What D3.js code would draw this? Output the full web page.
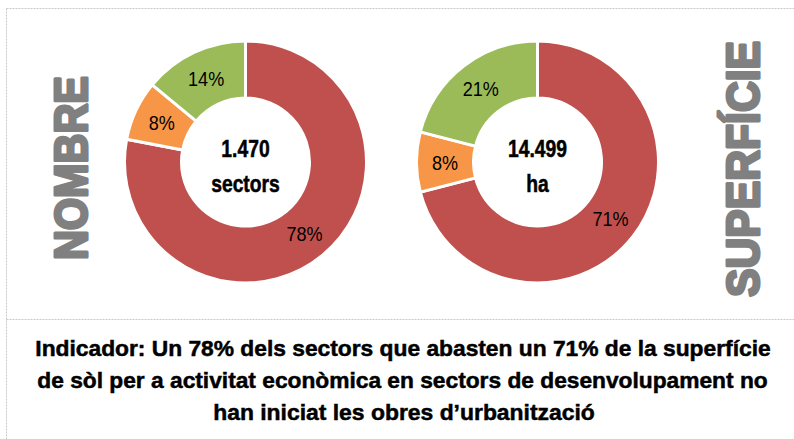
<!DOCTYPE html>
<html><head><meta charset="utf-8">
<script src="https://cdn.jsdelivr.net/npm/d3@7"></script>
<style>body{margin:0;background:#fff}svg{display:block}</style>
</head><body>
<svg id="c" width="794" height="439"></svg>
<script>
const categories = ["No iniciat", "Iniciat", "Acabat"];
const nombreValues = [78, 8, 14];
const superficieValues = [71, 8, 21];
const colors = ["#C0504D", "#F79646", "#9BBB59"];
const centerNombre = ["1.470", "sectors"];
const centerSuperficie = ["14.499", "ha"];
const sideLabels = ["NOMBRE", "SUPERFÍCIE"];
const titleLines = [
  "Indicador: Un 78% dels sectors que abasten un 71% de la superfície",
  "de sòl per a activitat econòmica en sectors de desenvolupament no",
  "han iniciat les obres d’urbanització"
];

const svg = d3.select("#c");
const font = "'Liberation Sans',Arial,sans-serif";

// borders
const bc = "#c9c9c9";
svg.append("line").attr("x1",6.5).attr("y1",8.5).attr("x2",794).attr("y2",8.5)
  .attr("stroke",bc).attr("stroke-dasharray","2,1");
svg.append("line").attr("x1",6.5).attr("y1",8.5).attr("x2",6.5).attr("y2",439)
  .attr("stroke",bc).attr("stroke-dasharray","2,1");
svg.append("line").attr("x1",6.5).attr("y1",319.5).attr("x2",794).attr("y2",319.5)
  .attr("stroke",bc).attr("stroke-dasharray","2,1");

const pie = d3.pie().sort(null).value(d => d);
const outerR = 121, innerR = 64;
const arc = d3.arc().innerRadius(innerR).outerRadius(outerR);
const labelArc = d3.arc().innerRadius((innerR+outerR)/2).outerRadius((innerR+outerR)/2);
const SX = 0.86;

function donut(cx, cy, values, center) {
  const g = svg.append("g").attr("transform", `translate(${cx},${cy})`);
  const arcs = pie(values);
  g.selectAll("path").data(arcs).join("path")
    .attr("d", arc).attr("fill", (d,i) => colors[i])
    .attr("stroke", "#fff").attr("stroke-width", 3).attr("stroke-linejoin","miter");
  g.selectAll("text.lbl").data(arcs).join("text").attr("class","lbl")
    .attr("transform", d => `translate(${labelArc.centroid(d)}) scale(${SX},1)`)
    .attr("text-anchor","middle").attr("dy","0.36em")
    .attr("font-family", font).attr("font-size", 21).attr("fill","#000")
    .text(d => d.data + "%");
  g.selectAll("text.ctr").data(center).join("text").attr("class","ctr")
    .attr("transform", (d,i) => `translate(0,${i === 0 ? -5 : 30}) scale(0.84,1)`)
    .attr("text-anchor","middle")
    .attr("font-family", font).attr("font-weight","bold").attr("font-size", 23)
    .attr("fill","#000").attr("stroke","#000").attr("stroke-width",0.5).text(d => d);
}
donut(245.5, 162, nombreValues, centerNombre);
donut(537.5, 162, superficieValues, centerSuperficie);

// side labels (rotated, condensed to reference length)
const sides = [{t: sideLabels[0], x: 87, y: 168, len: 184}, {t: sideLabels[1], x: 759, y: 169, len: 256}];
svg.selectAll("text.side").data(sides).join("text").attr("class","side")
  .attr("text-anchor","middle")
  .attr("font-family", font).attr("font-weight","bold").attr("font-size", 47)
  .attr("fill","#808080").attr("stroke","#808080").attr("stroke-width",3)
  .attr("stroke-linejoin","round")
  .text(d => d.t)
  .each(function(d) {
    const w = this.getComputedTextLength();
    d3.select(this).attr("transform", `translate(${d.x},${d.y}) rotate(-90) scale(${d.len / w},1)`);
  });

// title
const titleSpec = [{x0: 35, x1: 771, y: 356}, {x0: 37, x1: 768, y: 388}, {x0: 213, x1: 595, y: 420}];
svg.selectAll("text.title").data(titleLines).join("text").attr("class","title")
  .attr("text-anchor","middle")
  .attr("font-family", font).attr("font-weight","bold").attr("font-size", 22.5)
  .attr("fill","#000").attr("stroke","#000").attr("stroke-width",0.5).text(d => d)
  .each(function(d, i) {
    const s = titleSpec[i];
    const w = this.getComputedTextLength();
    d3.select(this).attr("transform", `translate(${(s.x0 + s.x1) / 2},${s.y}) scale(${(s.x1 - s.x0) / w},1)`);
  });
</script>
</body></html>
